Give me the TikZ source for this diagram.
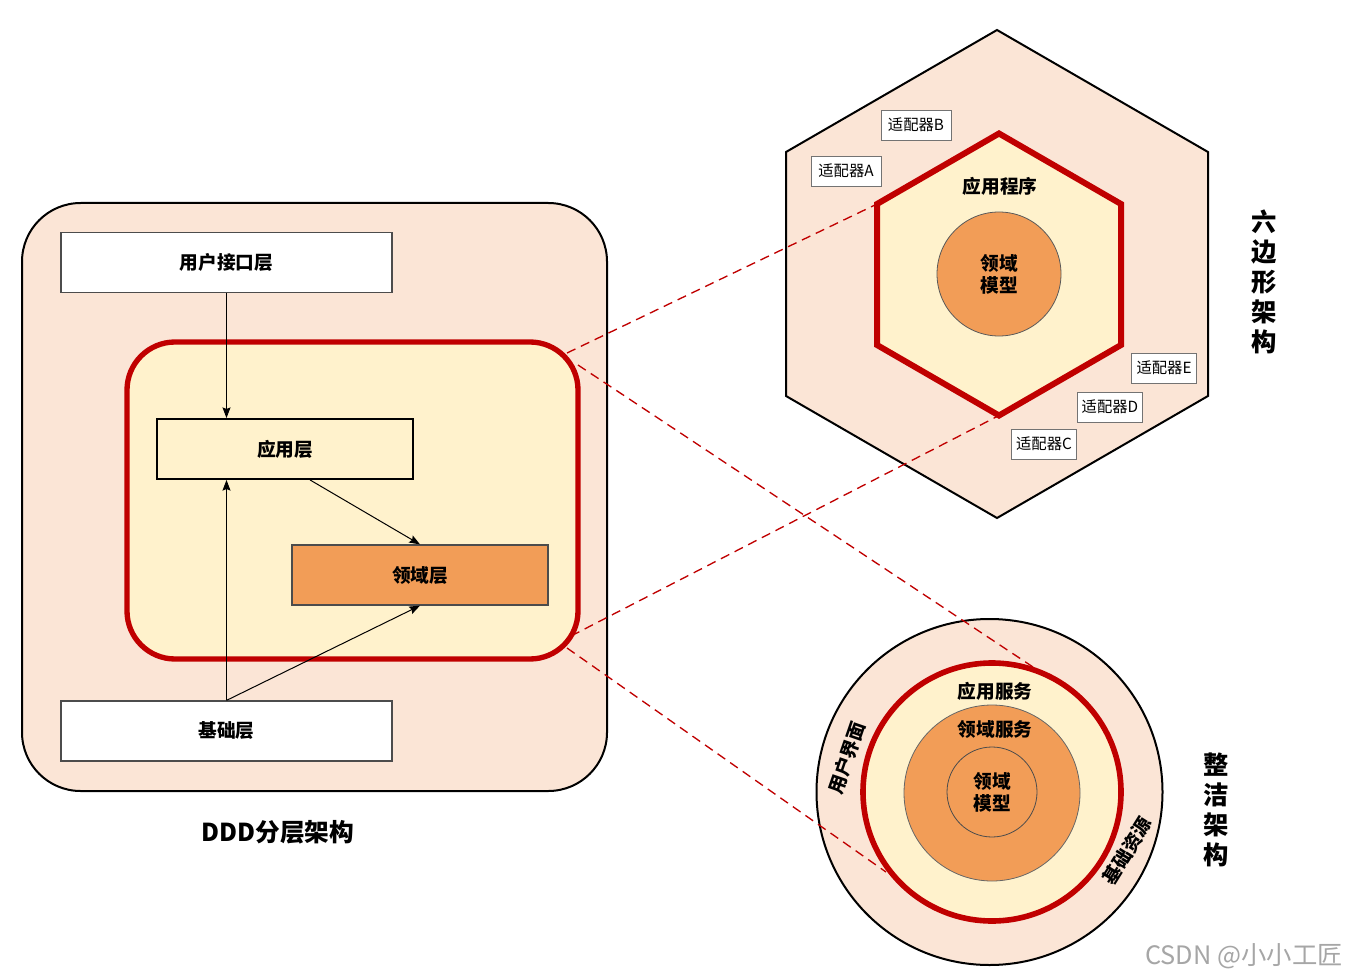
\documentclass[tikz,border=0pt]{standalone}
\usepackage{fontspec}
\setmainfont{Noto Sans CJK SC}
\usetikzlibrary{arrows.meta,calc}
\definecolor{peach}{HTML}{FBE5D6}
\definecolor{cream}{HTML}{FFF2CC}
\definecolor{orng}{RGB}{242,157,87}
\definecolor{dred}{HTML}{C00000}
\begin{document}
\begin{tikzpicture}[x=0.75pt,y=-0.75pt,
  lbl/.style={font=\fontsize{14}{16.5}\selectfont\bfseries},
  layerbox/.style={rectangle, minimum width=248.25pt, minimum height=45pt, inner sep=0pt, lbl},
  midbox/.style={rectangle, minimum width=192pt, minimum height=45pt, inner sep=0pt, lbl},
  adapter/.style={rectangle, draw=black!55, fill=white, line width=0.6pt, minimum width=49pt, minimum height=22.5pt, inner sep=0pt, font=\fontsize{11.5}{13}\selectfont},
  vtitle/.style={font=\fontsize{19}{22.5}\selectfont\bfseries, align=center},
  ring/.style={circle, inner sep=0pt},
  link/.style={-{Stealth[length=8pt,width=6pt,inset=1.2pt]}, line width=0.75pt},
  dline/.style={dred, line width=1pt, dash pattern=on 7pt off 4.5pt}
]
\useasboundingbox (0,0) rectangle (1351,980);
\fill[white] (0,0) rectangle (1351,980);

% ---------- DDD layered ----------
\draw[fill=peach, draw=black, line width=1.5pt, rounded corners=44pt] (22,203) rectangle (607,791);
\draw[fill=cream, draw=dred, line width=4pt, rounded corners=36pt] (127,342) rectangle (578,659);

\node[layerbox, draw=black!70, fill=white, line width=0.9pt] (ui) at (226.5,262.5) {用户接口层};
\node[midbox, draw=black, fill=cream, line width=1.4pt] (app) at (285,449) {应用层};
\node[midbox, draw=black!70, fill=orng, line width=0.9pt] (dom) at (420,575) {领域层};
\node[layerbox, draw=black!70, fill=white, line width=0.9pt] (base) at (226.5,731) {基础层};

\draw[link] (ui.south) -- (ui.south |- app.north);
\draw[link] (base.north) -- (base.north |- app.south);
\draw[link] ($(app.south)+(25,0)$) -- (dom.north);
\draw[link] (base.north) -- (dom.south);

\node[font=\fontsize{18.5}{21}\selectfont\bfseries] (dddtitle) at (278,832) {DDD分层架构};

% ---------- Hexagonal ----------
\filldraw[fill=peach, draw=black, line width=1.5pt]
  (997,30) -- (1208,152) -- (1208,396) -- (997,518) -- (786,396) -- (786,152) -- cycle;
\coordinate (hT) at (999,133.5);
\coordinate (hUR) at (1121,204);
\coordinate (hLR) at (1121,345);
\coordinate (hB) at (999,415.5);
\coordinate (hLL) at (877,345);
\coordinate (hUL) at (877,204);
\filldraw[fill=cream, draw=dred, line width=4.5pt, line join=miter]
  (hT) -- (hUR) -- (hLR) -- (hB) -- (hLL) -- (hUL) -- cycle;
\node[ring, minimum size=93pt, fill=orng, draw=black!65, line width=0.6pt,
      lbl, align=center] (hdom) at (999,274) {领域\\模型};
\node[lbl] (happ) at (1000,186) {应用程序};

\node[adapter, minimum width=52.5pt] (adB) at (916,125) {适配器B};
\node[adapter, minimum width=52.5pt] (adA) at (846,171) {适配器A};
\node[adapter] (adE) at (1164,368) {适配器E};
\node[adapter] (adD) at (1110,407) {适配器D};
\node[adapter] (adC) at (1044,444) {适配器C};

\node[vtitle] (hextitle) at (1264,282) {六\\边\\形\\架\\构};

% ---------- Clean architecture ----------
\node[ring, minimum size=259.5pt, fill=peach, draw=black, line width=1.5pt] (cOuter) at (989.5,792) {};
\node[ring, minimum size=193.5pt, fill=cream, draw=dred, line width=4.2pt] (cApp) at (992,792) {};
\node[ring, minimum size=132pt, fill=orng, draw=black!60, line width=0.6pt] (cDomSvc) at (992,793) {};
\node[ring, minimum size=67.5pt, draw=black!70, line width=0.6pt, lbl, align=center] (cModel) at (992,792) {领域\\模型};
\node[lbl] (cAppTxt) at (995,691) {应用服务};
\node[lbl] (cDomTxt) at (995,729) {领域服务};
\node[lbl, rotate=71, inner sep=0pt] (cUI) at (847,758) {用户界面};
\node[lbl, rotate=58, inner sep=0pt] (cInfra) at (1127,851) {基础资源};

\node[vtitle] (cleantitle) at (1216,810) {整\\洁\\架\\构};

% ---------- dashed projections ----------
\coordinate (r1) at (567,353);
\coordinate (r2) at (578,365);
\coordinate (r3) at (571,636);
\coordinate (r4) at (567,648);
\coordinate (c1) at (1033,667);
\coordinate (c2) at (886,872);
\draw[dline] (r1) -- (hUL);
\draw[dline] (r2) -- (c1);
\draw[dline] (r3) -- (hB);
\draw[dline] (r4) -- (c2);

% ---------- watermark ----------
\node[text=black!35, font=\fontsize{19}{21}\selectfont] (wm) at (1244,956) {CSDN @小小工匠};
\end{tikzpicture}
\end{document}
